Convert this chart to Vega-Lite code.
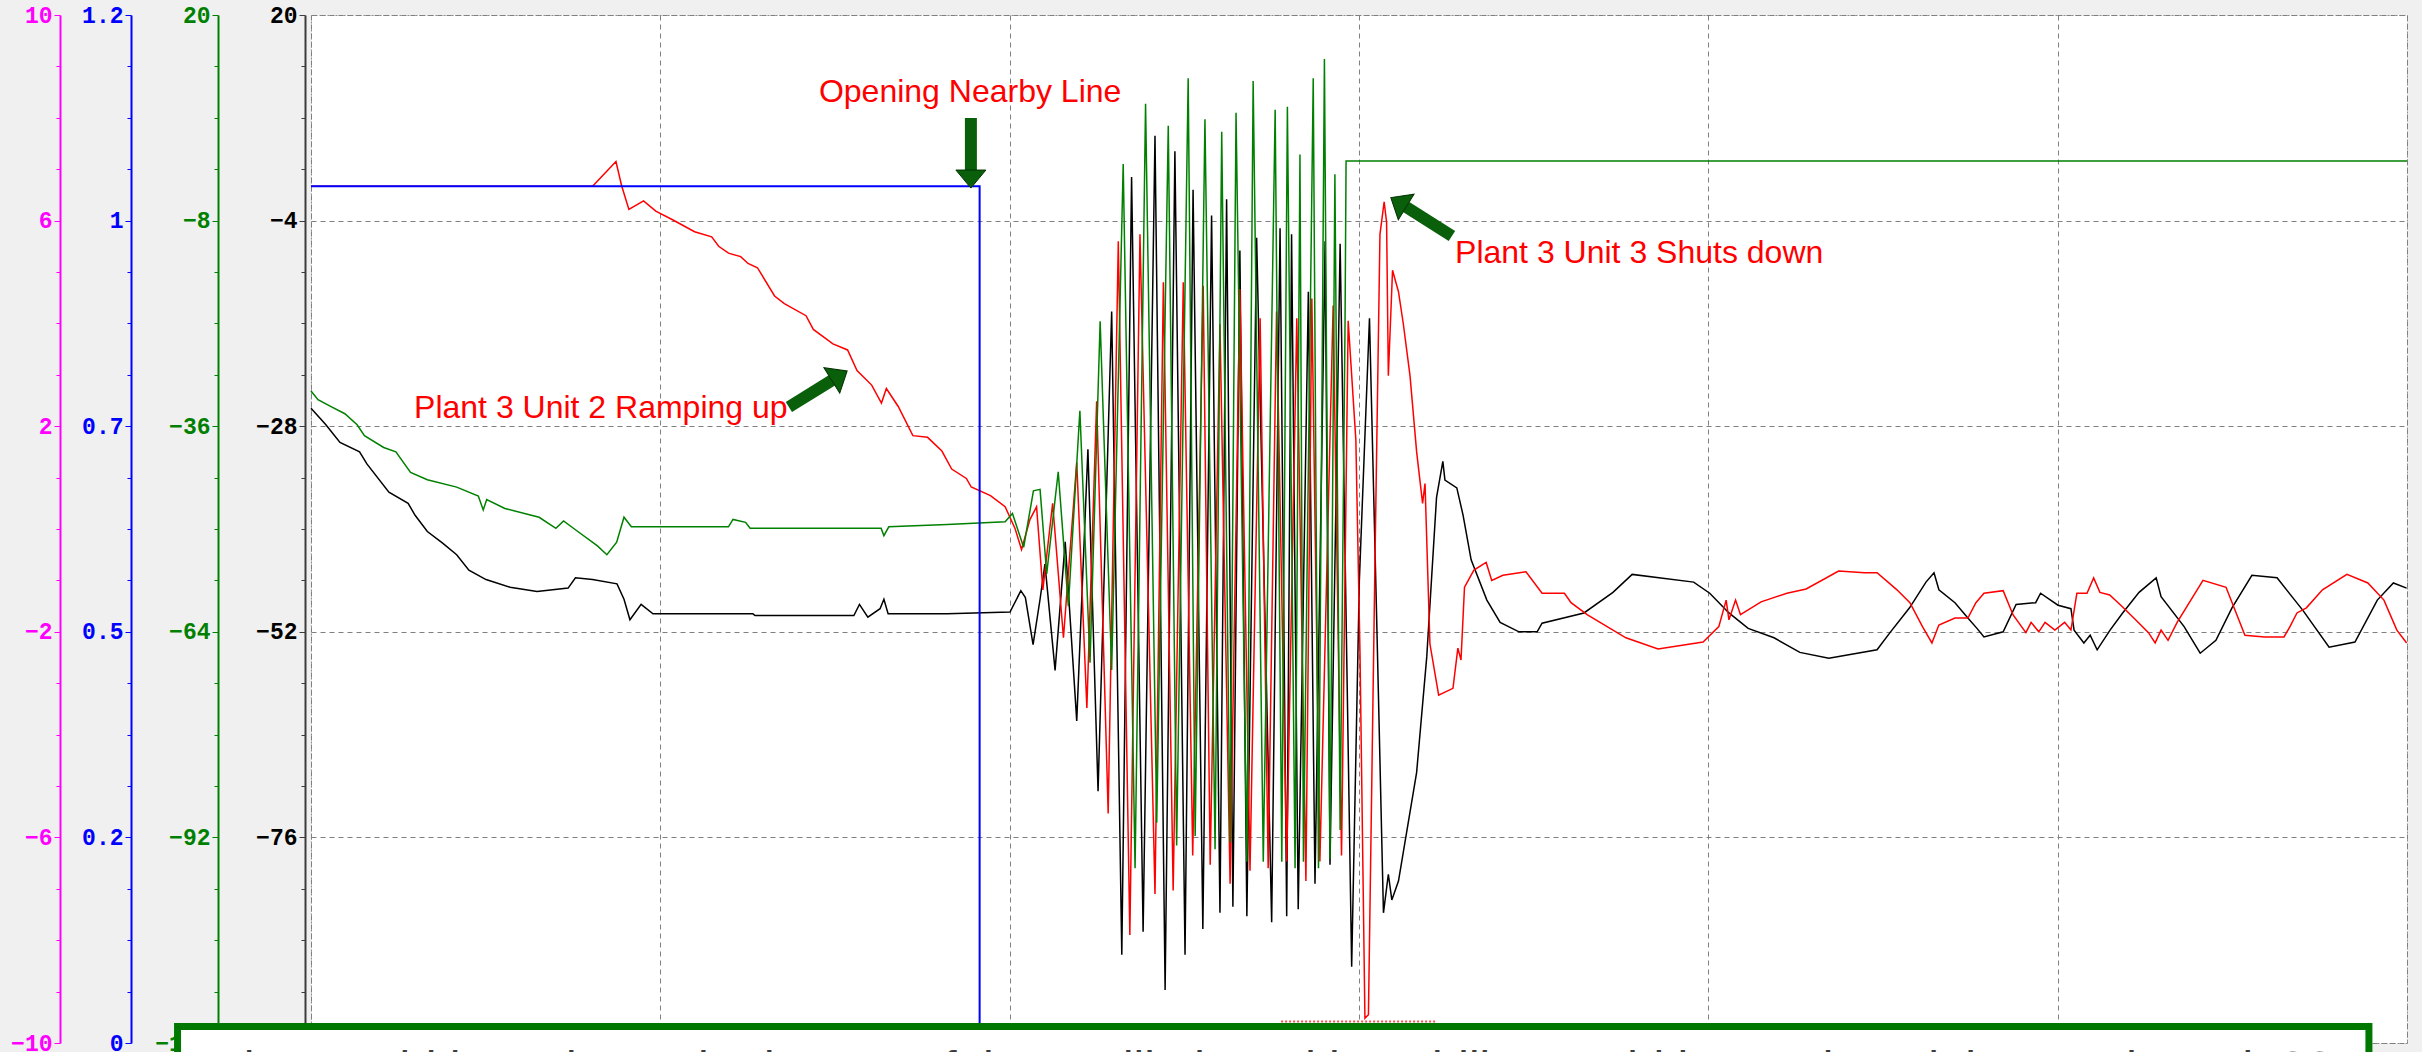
{
  "$schema": "https://vega.github.io/schema/vega-lite/v6.json",
  "width": 2096,
  "height": 1028,
  "autosize": {"type": "none"},
  "padding": {"left": 311, "top": 15, "right": 15, "bottom": 9},
  "background": "#f0f0f0",
  "config": {
    "view": {"fill": "white", "stroke": "#8c8c8c", "strokeDash": [2, 2], "strokeWidth": 1},
    "axis": {"labelFont": "Liberation Mono", "labelFontSize": 23, "labelFontWeight": "bold", "labelPadding": 2, "labelOverlap": false, "labelBound": false},
    "axisX": {"grid": true, "labels": false, "ticks": false, "domain": false, "tickCount": 6, "gridColor": "#808080", "gridDash": [5, 4], "gridWidth": 1},
    "axisY": {"grid": false}
  },
  "datasets": {
    "kr": [
      {"t":0,"v":-25.9,"s":"black"},{"t":0.42,"v":-27.8,"s":"black"},{"t":0.83,"v":-29.9,"s":"black"},{"t":1.39,"v":-31.0,"s":"black"},{"t":1.6,"v":-32.4,"s":"black"},{"t":2.23,"v":-35.7,"s":"black"},{"t":2.78,"v":-37.0,"s":"black"},{"t":2.98,"v":-38.4,"s":"black"},{"t":3.33,"v":-40.3,"s":"black"},{"t":3.75,"v":-41.6,"s":"black"},{"t":4.17,"v":-43.0,"s":"black"},{"t":4.52,"v":-44.8,"s":"black"},{"t":5.01,"v":-45.9,"s":"black"},{"t":5.7,"v":-46.8,"s":"black"},{"t":6.47,"v":-47.3,"s":"black"},{"t":7.36,"v":-46.9,"s":"black"},{"t":7.57,"v":-45.7,"s":"black"},{"t":8.06,"v":-45.9,"s":"black"},{"t":8.76,"v":-46.4,"s":"black"},{"t":8.96,"v":-48.2,"s":"black"},{"t":9.13,"v":-50.6,"s":"black"},{"t":9.45,"v":-48.8,"s":"black"},{"t":9.79,"v":-49.9,"s":"black"},{"t":12.65,"v":-49.9,"s":"black"},{"t":12.71,"v":-50.1,"s":"black"},{"t":15.54,"v":-50.1,"s":"black"},{"t":15.7,"v":-48.8,"s":"black"},{"t":15.94,"v":-50.3,"s":"black"},{"t":16.29,"v":-49.3,"s":"black"},{"t":16.4,"v":-48.2,"s":"black"},{"t":16.52,"v":-49.9,"s":"black"},{"t":18.21,"v":-49.9,"s":"black"},{"t":20.01,"v":-49.7,"s":"black"},{"t":20.32,"v":-47.2,"s":"black"},{"t":20.45,"v":-48.0,"s":"black"},{"t":20.67,"v":-53.5,"s":"black"},{"t":20.87,"v":-48.2,"s":"black"},{"t":21.01,"v":-44.1,"s":"black"},{"t":21.3,"v":-56.5,"s":"black"},{"t":21.59,"v":-41.5,"s":"black"},{"t":21.92,"v":-62.4,"s":"black"},{"t":22.24,"v":-30.7,"s":"black"},{"t":22.53,"v":-70.6,"s":"black"},{"t":22.92,"v":-14.6,"s":"black"},{"t":23.21,"v":-89.7,"s":"black"},{"t":23.49,"v":1.1,"s":"black"},{"t":23.82,"v":-87.0,"s":"black"},{"t":24.16,"v":5.9,"s":"black"},{"t":24.45,"v":-93.8,"s":"black"},{"t":24.73,"v":4.1,"s":"black"},{"t":25.02,"v":-89.7,"s":"black"},{"t":25.25,"v":-0.4,"s":"black"},{"t":25.53,"v":-86.7,"s":"black"},{"t":25.78,"v":-3.4,"s":"black"},{"t":26.02,"v":-84.8,"s":"black"},{"t":26.21,"v":-1.5,"s":"black"},{"t":26.39,"v":-84.1,"s":"black"},{"t":26.59,"v":-7.5,"s":"black"},{"t":26.79,"v":-85.2,"s":"black"},{"t":27.07,"v":-6.0,"s":"black"},{"t":27.5,"v":-85.9,"s":"black"},{"t":27.74,"v":-4.9,"s":"black"},{"t":27.93,"v":-85.2,"s":"black"},{"t":28.07,"v":-5.6,"s":"black"},{"t":28.26,"v":-84.4,"s":"black"},{"t":28.55,"v":-12.3,"s":"black"},{"t":28.74,"v":-81.4,"s":"black"},{"t":29.03,"v":-6.4,"s":"black"},{"t":29.17,"v":-79.2,"s":"black"},{"t":29.46,"v":-6.7,"s":"black"},{"t":29.79,"v":-91.1,"s":"black"},{"t":30.01,"v":-46.0,"s":"black"},{"t":30.3,"v":-15.4,"s":"black"},{"t":30.51,"v":-51.2,"s":"black"},{"t":30.7,"v":-84.8,"s":"black"},{"t":30.84,"v":-80.3,"s":"black"},{"t":30.94,"v":-83.3,"s":"black"},{"t":31.13,"v":-81.1,"s":"black"},{"t":31.65,"v":-68.4,"s":"black"},{"t":31.94,"v":-54.9,"s":"black"},{"t":32.22,"v":-36.3,"s":"black"},{"t":32.4,"v":-32.1,"s":"black"},{"t":32.46,"v":-34.3,"s":"black"},{"t":32.8,"v":-35.2,"s":"black"},{"t":32.98,"v":-38.4,"s":"black"},{"t":33.21,"v":-43.6,"s":"black"},{"t":33.66,"v":-48.3,"s":"black"},{"t":34.04,"v":-50.9,"s":"black"},{"t":34.58,"v":-52.0,"s":"black"},{"t":35.1,"v":-52.0,"s":"black"},{"t":35.24,"v":-51.0,"s":"black"},{"t":36.44,"v":-49.8,"s":"black"},{"t":37.27,"v":-47.4,"s":"black"},{"t":37.82,"v":-45.3,"s":"black"},{"t":39.58,"v":-46.2,"s":"black"},{"t":40.04,"v":-47.5,"s":"black"},{"t":40.59,"v":-49.8,"s":"black"},{"t":41.14,"v":-51.6,"s":"black"},{"t":41.88,"v":-52.7,"s":"black"},{"t":42.62,"v":-54.4,"s":"black"},{"t":43.45,"v":-55.1,"s":"black"},{"t":44.83,"v":-54.1,"s":"black"},{"t":45.2,"v":-52.1,"s":"black"},{"t":45.76,"v":-49.2,"s":"black"},{"t":46.23,"v":-46.2,"s":"black"},{"t":46.46,"v":-45.1,"s":"black"},{"t":46.6,"v":-47.1,"s":"black"},{"t":47.06,"v":-48.6,"s":"black"},{"t":47.43,"v":-50.4,"s":"black"},{"t":47.69,"v":-51.6,"s":"black"},{"t":47.89,"v":-52.6,"s":"black"},{"t":48.44,"v":-52.0,"s":"black"},{"t":48.81,"v":-48.8,"s":"black"},{"t":49.37,"v":-48.6,"s":"black"},{"t":49.51,"v":-47.5,"s":"black"},{"t":50.01,"v":-48.9,"s":"black"},{"t":50.38,"v":-49.3,"s":"black"},{"t":50.47,"v":-51.8,"s":"black"},{"t":50.75,"v":-53.3,"s":"black"},{"t":50.93,"v":-52.4,"s":"black"},{"t":51.13,"v":-54.1,"s":"black"},{"t":51.5,"v":-51.8,"s":"black"},{"t":51.86,"v":-49.8,"s":"black"},{"t":52.33,"v":-47.4,"s":"black"},{"t":52.82,"v":-45.7,"s":"black"},{"t":52.96,"v":-47.9,"s":"black"},{"t":53.62,"v":-51.4,"s":"black"},{"t":54.08,"v":-54.5,"s":"black"},{"t":54.53,"v":-53.0,"s":"black"},{"t":54.99,"v":-49.2,"s":"black"},{"t":55.56,"v":-45.4,"s":"black"},{"t":56.28,"v":-45.7,"s":"black"},{"t":57.02,"v":-49.5,"s":"black"},{"t":57.77,"v":-53.8,"s":"black"},{"t":58.51,"v":-53.2,"s":"black"},{"t":59.15,"v":-48.3,"s":"black"},{"t":59.61,"v":-46.3,"s":"black"},{"t":59.99,"v":-46.9,"s":"black"},
      {"t":0,"v":0,"s":"red"},{"t":8.06,"v":0,"s":"red"},{"t":8.73,"v":2.9,"s":"red"},{"t":8.89,"v":0.1,"s":"red"},{"t":9.1,"v":-2.7,"s":"red"},{"t":9.52,"v":-1.7,"s":"red"},{"t":9.87,"v":-2.9,"s":"red"},{"t":10.35,"v":-3.9,"s":"red"},{"t":10.98,"v":-5.3,"s":"red"},{"t":11.47,"v":-5.9,"s":"red"},{"t":11.67,"v":-7.0,"s":"red"},{"t":11.95,"v":-7.8,"s":"red"},{"t":12.3,"v":-8.2,"s":"red"},{"t":12.51,"v":-9.0,"s":"red"},{"t":12.78,"v":-9.5,"s":"red"},{"t":13.27,"v":-12.8,"s":"red"},{"t":13.55,"v":-13.7,"s":"red"},{"t":14.17,"v":-15.1,"s":"red"},{"t":14.38,"v":-16.7,"s":"red"},{"t":14.94,"v":-18.4,"s":"red"},{"t":15.36,"v":-19.1,"s":"red"},{"t":15.63,"v":-21.5,"s":"red"},{"t":16.05,"v":-23.2,"s":"red"},{"t":16.33,"v":-25.3,"s":"red"},{"t":16.47,"v":-23.6,"s":"red"},{"t":16.81,"v":-25.7,"s":"red"},{"t":17.23,"v":-29.1,"s":"red"},{"t":17.65,"v":-29.3,"s":"red"},{"t":18.06,"v":-30.9,"s":"red"},{"t":18.34,"v":-33.0,"s":"red"},{"t":18.76,"v":-34.1,"s":"red"},{"t":18.9,"v":-35.1,"s":"red"},{"t":19.45,"v":-36.1,"s":"red"},{"t":19.87,"v":-37.4,"s":"red"},{"t":20.15,"v":-39.9,"s":"red"},{"t":20.34,"v":-42.4,"s":"red"},{"t":20.58,"v":-38.9,"s":"red"},{"t":20.77,"v":-37.4,"s":"red"},{"t":20.95,"v":-47.1,"s":"red"},{"t":21.23,"v":-37.0,"s":"red"},{"t":21.54,"v":-52.7,"s":"red"},{"t":21.92,"v":-32.2,"s":"red"},{"t":22.21,"v":-60.9,"s":"red"},{"t":22.49,"v":-25.1,"s":"red"},{"t":22.82,"v":-73.2,"s":"red"},{"t":23.11,"v":-6.4,"s":"red"},{"t":23.44,"v":-87.4,"s":"red"},{"t":23.73,"v":-5.6,"s":"red"},{"t":24.16,"v":-82.6,"s":"red"},{"t":24.4,"v":-11.2,"s":"red"},{"t":24.68,"v":-82.2,"s":"red"},{"t":24.97,"v":-11.2,"s":"red"},{"t":25.24,"v":-78.1,"s":"red"},{"t":25.54,"v":-11.6,"s":"red"},{"t":25.74,"v":-79.2,"s":"red"},{"t":26.02,"v":-16.1,"s":"red"},{"t":26.31,"v":-81.4,"s":"red"},{"t":26.59,"v":-12.0,"s":"red"},{"t":26.88,"v":-79.9,"s":"red"},{"t":27.17,"v":-15.4,"s":"red"},{"t":27.4,"v":-79.6,"s":"red"},{"t":27.64,"v":-14.6,"s":"red"},{"t":27.93,"v":-78.8,"s":"red"},{"t":28.22,"v":-15.4,"s":"red"},{"t":28.48,"v":-81.1,"s":"red"},{"t":28.65,"v":-13.1,"s":"red"},{"t":28.88,"v":-78.8,"s":"red"},{"t":29.26,"v":-13.9,"s":"red"},{"t":29.5,"v":-78.1,"s":"red"},{"t":29.69,"v":-15.7,"s":"red"},{"t":29.91,"v":-29.6,"s":"red"},{"t":30.03,"v":-54.9,"s":"red"},{"t":30.17,"v":-97.1,"s":"red"},{"t":30.27,"v":-96.7,"s":"red"},{"t":30.46,"v":-43.0,"s":"red"},{"t":30.6,"v":-5.6,"s":"red"},{"t":30.72,"v":-1.8,"s":"red"},{"t":30.79,"v":-4.2,"s":"red"},{"t":30.84,"v":-22.1,"s":"red"},{"t":30.96,"v":-9.8,"s":"red"},{"t":31.13,"v":-12.3,"s":"red"},{"t":31.27,"v":-16.1,"s":"red"},{"t":31.46,"v":-22.1,"s":"red"},{"t":31.65,"v":-31.0,"s":"red"},{"t":31.82,"v":-37.0,"s":"red"},{"t":31.89,"v":-34.7,"s":"red"},{"t":32.03,"v":-53.4,"s":"red"},{"t":32.28,"v":-59.4,"s":"red"},{"t":32.69,"v":-58.6,"s":"red"},{"t":32.83,"v":-53.9,"s":"red"},{"t":32.92,"v":-55.3,"s":"red"},{"t":33.02,"v":-46.8,"s":"red"},{"t":33.29,"v":-44.8,"s":"red"},{"t":33.64,"v":-43.9,"s":"red"},{"t":33.8,"v":-46.0,"s":"red"},{"t":34.12,"v":-45.4,"s":"red"},{"t":34.78,"v":-45.0,"s":"red"},{"t":35.24,"v":-47.5,"s":"red"},{"t":35.88,"v":-47.5,"s":"red"},{"t":36.07,"v":-48.6,"s":"red"},{"t":36.53,"v":-50.0,"s":"red"},{"t":37.64,"v":-52.7,"s":"red"},{"t":38.56,"v":-54.0,"s":"red"},{"t":39.85,"v":-53.2,"s":"red"},{"t":40.3,"v":-51.4,"s":"red"},{"t":40.51,"v":-48.3,"s":"red"},{"t":40.59,"v":-50.6,"s":"red"},{"t":40.78,"v":-48.3,"s":"red"},{"t":40.92,"v":-50.0,"s":"red"},{"t":41.51,"v":-48.5,"s":"red"},{"t":42.25,"v":-47.5,"s":"red"},{"t":42.8,"v":-47.0,"s":"red"},{"t":43.73,"v":-44.9,"s":"red"},{"t":44.47,"v":-45.1,"s":"red"},{"t":44.83,"v":-45.1,"s":"red"},{"t":45.4,"v":-47.1,"s":"red"},{"t":45.77,"v":-48.6,"s":"red"},{"t":46.13,"v":-51.4,"s":"red"},{"t":46.4,"v":-53.3,"s":"red"},{"t":46.6,"v":-51.2,"s":"red"},{"t":47.06,"v":-50.4,"s":"red"},{"t":47.43,"v":-50.4,"s":"red"},{"t":47.66,"v":-48.6,"s":"red"},{"t":47.89,"v":-47.5,"s":"red"},{"t":48.44,"v":-47.2,"s":"red"},{"t":48.72,"v":-50.0,"s":"red"},{"t":49.09,"v":-52.1,"s":"red"},{"t":49.24,"v":-50.9,"s":"red"},{"t":49.46,"v":-52.0,"s":"red"},{"t":49.64,"v":-50.9,"s":"red"},{"t":49.92,"v":-51.8,"s":"red"},{"t":50.2,"v":-50.9,"s":"red"},{"t":50.38,"v":-51.8,"s":"red"},{"t":50.55,"v":-47.5,"s":"red"},{"t":50.84,"v":-47.5,"s":"red"},{"t":51.03,"v":-45.7,"s":"red"},{"t":51.21,"v":-47.4,"s":"red"},{"t":51.49,"v":-47.7,"s":"red"},{"t":51.86,"v":-49.1,"s":"red"},{"t":52.23,"v":-50.6,"s":"red"},{"t":52.6,"v":-52.1,"s":"red"},{"t":52.79,"v":-53.3,"s":"red"},{"t":52.96,"v":-51.8,"s":"red"},{"t":53.16,"v":-53.0,"s":"red"},{"t":53.42,"v":-50.9,"s":"red"},{"t":54.16,"v":-46.0,"s":"red"},{"t":54.82,"v":-46.8,"s":"red"},{"t":55.36,"v":-52.4,"s":"red"},{"t":55.92,"v":-52.6,"s":"red"},{"t":56.48,"v":-52.6,"s":"red"},{"t":56.65,"v":-51.4,"s":"red"},{"t":56.85,"v":-49.8,"s":"red"},{"t":57.12,"v":-49.2,"s":"red"},{"t":57.58,"v":-47.1,"s":"red"},{"t":58.28,"v":-45.3,"s":"red"},{"t":58.88,"v":-46.3,"s":"red"},{"t":59.34,"v":-48.3,"s":"red"},{"t":59.71,"v":-51.8,"s":"red"},{"t":59.99,"v":-53.3,"s":"red"}
    ],
    "green": [
      {"t":0,"g":-31.2},{"t":0.2,"g":-32.4},{"t":0.56,"g":-33.3},{"t":0.97,"g":-34.3},{"t":1.32,"g":-35.8},{"t":1.53,"g":-37.3},{"t":2.08,"g":-38.9},{"t":2.43,"g":-39.5},{"t":2.85,"g":-42.3},{"t":3.33,"g":-43.3},{"t":4.17,"g":-44.3},{"t":4.79,"g":-45.5},{"t":4.93,"g":-47.4},{"t":5.03,"g":-46.0},{"t":5.55,"g":-47.2},{"t":6.53,"g":-48.4},{"t":7.01,"g":-49.9},{"t":7.23,"g":-48.9},{"t":7.57,"g":-50.1},{"t":8.2,"g":-52.3},{"t":8.47,"g":-53.5},{"t":8.75,"g":-51.8},{"t":8.96,"g":-48.4},{"t":9.17,"g":-49.7},{"t":11.95,"g":-49.7},{"t":12.08,"g":-48.7},{"t":12.44,"g":-49.1},{"t":12.57,"g":-49.9},{"t":16.32,"g":-49.9},{"t":16.4,"g":-50.9},{"t":16.54,"g":-49.7},{"t":18.21,"g":-49.4},{"t":19.87,"g":-49.0},{"t":20.08,"g":-47.9},{"t":20.4,"g":-52.5},{"t":20.68,"g":-44.8},{"t":20.87,"g":-44.6},{"t":21.06,"g":-56.1},{"t":21.39,"g":-42.2},{"t":21.68,"g":-60.5},{"t":22.01,"g":-33.9},{"t":22.3,"g":-68.2},{"t":22.59,"g":-21.7},{"t":22.92,"g":-69.2},{"t":23.25,"g":-0.3},{"t":23.59,"g":-96.2},{"t":23.89,"g":7.9},{"t":24.21,"g":-90.0},{"t":24.54,"g":4.9},{"t":24.78,"g":-93.1},{"t":25.11,"g":11.4},{"t":25.31,"g":-91.8},{"t":25.59,"g":5.8},{"t":25.88,"g":-93.6},{"t":26.07,"g":4.1},{"t":26.31,"g":-92.7},{"t":26.48,"g":6.7},{"t":26.79,"g":-95.3},{"t":26.97,"g":11.0},{"t":27.26,"g":-95.3},{"t":27.6,"g":7.1},{"t":27.79,"g":-95.3},{"t":27.95,"g":7.5},{"t":28.17,"g":-96.2},{"t":28.31,"g":1.0},{"t":28.41,"g":-95.3},{"t":28.69,"g":11.4},{"t":28.84,"g":-96.2},{"t":29.01,"g":14.0},{"t":29.17,"g":-94.9},{"t":29.31,"g":-1.7},{"t":29.46,"g":-91.0},{"t":29.6,"g":-22.1},{"t":29.63,"g":0.1},{"t":60,"g":0.1}
    ],
    "blue": [
      {"t":0,"b":1.0},{"t":19.14,"b":0},{"t":50,"b":0}
    ],
    "mag": [
      {"t":27.77,"m":-9.58},{"t":32.23,"m":-9.58}
    ],
    "notes": [
      {"t":14.54,"v":9.84,"label":"Opening Nearby Line"},
      {"t":2.95,"v":-27.0,"label":"Plant 3 Unit 2 Ramping up"},
      {"t":32.75,"v":-9.0,"label":"Plant 3 Unit 3 Shuts down"}
    ],
    "arrows": [
      {"t":18.89,"v":7.98,"t2":18.89,"v2":1.9,"heading":180},
      {"t":13.68,"v":-25.76,"t2":14.91,"v2":-22.66,"heading":58.2},
      {"t":32.66,"v":-5.8,"t2":31.35,"v2":-2.41,"heading":301.5}
    ],
    "box": [
      {"t":-3.82,"v":-98.07,"t2":58.91,"v2":-120}
    ],
    "question": [
      {"t":-3.21,"v":-104.9,"label":"What could have been the impact of the oscillation with stability would have tripped the nearby unit 3?"}
    ]
  },
  "layer": [
    {
      "data": {"name": "kr"},
      "mark": {"type": "line", "strokeWidth": 1.5},
      "encoding": {
        "x": {"field": "t", "type": "quantitative", "scale": {"domain": [0, 60], "nice": false}, "title": null},
        "y": {"field": "v", "type": "quantitative", "scale": {"domain": [-100, 20], "nice": false, "zero": false}, "title": null,
          "axis": {"orient": "left", "offset": 6,
            "values": [-100,-94,-88,-82,-76,-70,-64,-58,-52,-46,-40,-34,-28,-22,-16,-10,-4,2,8,14,20],
            "labelExpr": "(20 - datum.value) % 24 === 0 ? datum.label : ''",
            "grid": true,
            "gridOpacity": {"condition": {"test": "(20 - datum.value) % 24 === 0", "value": 1}, "value": 0},
            "gridColor": "#808080", "gridDash": [5, 4],
            "tickSize": {"condition": {"test": "(20 - datum.value) % 24 === 0", "value": 6}, "value": 4},
            "domainColor": "#3c3c3c", "domainWidth": 2, "tickColor": "#3c3c3c", "labelColor": "#000000"}},
        "color": {"field": "s", "type": "nominal", "scale": {"domain": ["black", "red"], "range": ["#000000", "#ff0000"]}, "legend": null}
      }
    },
    {
      "data": {"name": "green"},
      "mark": {"type": "line", "strokeWidth": 1.5, "color": "#008000"},
      "encoding": {
        "x": {"field": "t", "type": "quantitative", "scale": {"domain": [0, 60], "nice": false}, "title": null},
        "y": {"field": "g", "type": "quantitative", "scale": {"domain": [-120, 20], "nice": false, "zero": false}, "title": null,
          "axis": {"orient": "left", "offset": 93,
            "values": [-120,-113,-106,-99,-92,-85,-78,-71,-64,-57,-50,-43,-36,-29,-22,-15,-8,-1,6,13,20],
            "labelExpr": "(20 - datum.value) % 28 === 0 ? datum.label : ''",
            "tickSize": {"condition": {"test": "(20 - datum.value) % 28 === 0", "value": 6}, "value": 4},
            "domainColor": "#008000", "domainWidth": 2, "tickColor": "#008000", "labelColor": "#008000"}}
      }
    },
    {
      "data": {"name": "blue"},
      "mark": {"type": "line", "strokeWidth": 2, "color": "#0000ff", "interpolate": "step-after"},
      "encoding": {
        "x": {"field": "t", "type": "quantitative", "scale": {"domain": [0, 60], "nice": false}, "title": null},
        "y": {"field": "b", "type": "quantitative", "scale": {"domain": [0, 1.2], "nice": false}, "title": null,
          "axis": {"orient": "left", "offset": 180, "format": ".1~f",
            "values": [0,0.06,0.12,0.18,0.24,0.3,0.36,0.42,0.48,0.54,0.6,0.66,0.72,0.78,0.84,0.9,0.96,1.02,1.08,1.14,1.2],
            "labelExpr": "round(datum.value * 100) % 24 === 0 ? datum.label : ''",
            "tickSize": {"condition": {"test": "round(datum.value * 100) % 24 === 0", "value": 6}, "value": 4},
            "domainColor": "#0000ff", "domainWidth": 2, "tickColor": "#0000ff", "labelColor": "#0000ff"}}
      }
    },
    {
      "data": {"name": "mag"},
      "mark": {"type": "line", "strokeWidth": 2, "color": "#ff5050", "strokeDash": [2, 2]},
      "encoding": {
        "x": {"field": "t", "type": "quantitative", "scale": {"domain": [0, 60], "nice": false}, "title": null},
        "y": {"field": "m", "type": "quantitative", "scale": {"domain": [-10, 10], "nice": false}, "title": null,
          "axis": {"orient": "left", "offset": 251,
            "values": [-10,-9,-8,-7,-6,-5,-4,-3,-2,-1,0,1,2,3,4,5,6,7,8,9,10],
            "labelExpr": "(datum.value + 10) % 4 === 0 ? datum.label : ''",
            "tickSize": {"condition": {"test": "(datum.value + 10) % 4 === 0", "value": 6}, "value": 4},
            "domainColor": "#ff00ff", "domainWidth": 2, "tickColor": "#ff00ff", "labelColor": "#ff00ff"}}
      }
    },
    {
      "data": {"name": "arrows"},
      "mark": {"type": "rule", "strokeWidth": 12, "color": "#0a5f0a"},
      "encoding": {
        "x": {"field": "t", "type": "quantitative", "scale": {"domain": [0, 60], "nice": false}, "title": null},
        "y": {"field": "v", "type": "quantitative", "scale": {"domain": [-100, 20], "nice": false}, "axis": null},
        "x2": {"field": "t2"},
        "y2": {"field": "v2"}
      }
    },
    {
      "data": {"name": "arrows"},
      "mark": {"type": "point", "shape": "M-1,0L1,0L0,-1.2Z", "size": 900, "filled": true, "fill": "#0a5f0a", "stroke": "#033003", "strokeWidth": 1, "opacity": 1},
      "encoding": {
        "x": {"field": "t2", "type": "quantitative", "scale": {"domain": [0, 60], "nice": false}, "title": null},
        "y": {"field": "v2", "type": "quantitative", "scale": {"domain": [-100, 20], "nice": false}, "axis": null},
        "angle": {"field": "heading", "type": "quantitative", "scale": null}
      }
    },
    {
      "data": {"name": "notes"},
      "mark": {"type": "text", "align": "left", "baseline": "alphabetic", "font": "Liberation Sans", "fontSize": 32, "color": "#ff0000"},
      "encoding": {
        "x": {"field": "t", "type": "quantitative", "scale": {"domain": [0, 60], "nice": false}, "title": null},
        "y": {"field": "v", "type": "quantitative", "scale": {"domain": [-100, 20], "nice": false}, "axis": null},
        "text": {"field": "label"}
      }
    },
    {
      "data": {"name": "box"},
      "mark": {"type": "rect", "fill": "#ffffff", "stroke": "#007800", "strokeWidth": 7, "clip": false},
      "encoding": {
        "x": {"field": "t", "type": "quantitative", "scale": {"domain": [0, 60], "nice": false}, "title": null},
        "x2": {"field": "t2"},
        "y": {"field": "v", "type": "quantitative", "scale": {"domain": [-100, 20], "nice": false}, "axis": null},
        "y2": {"field": "v2"}
      }
    },
    {
      "data": {"name": "question"},
      "mark": {"type": "text", "align": "left", "baseline": "alphabetic", "font": "Liberation Sans", "fontSize": 47.5, "color": "#3c3c3c"},
      "encoding": {
        "x": {"field": "t", "type": "quantitative", "scale": {"domain": [0, 60], "nice": false}, "title": null},
        "y": {"field": "v", "type": "quantitative", "scale": {"domain": [-100, 20], "nice": false}, "axis": null},
        "text": {"field": "label"}
      }
    }
  ],
  "resolve": {"scale": {"y": "independent"}, "axis": {"y": "independent"}}
}
